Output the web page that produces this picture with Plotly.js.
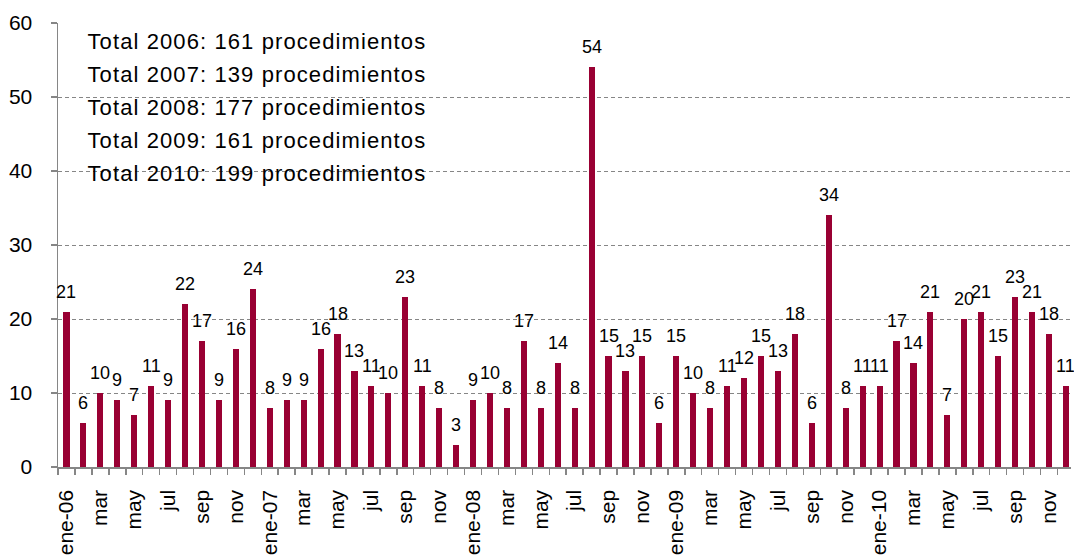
<!DOCTYPE html>
<html>
<head>
<meta charset="utf-8">
<script src="https://cdn.plot.ly/plotly-3.0.1.min.js"></script>
<style>
html, body { margin: 0; padding: 0; background: #fff; }
#chart { width: 1074px; height: 559px; }
</style>
</head>
<body>
<div id="chart"></div>
<script>
// Monthly values (procedimientos)
const v2006 = [21, 6, 10, 9, 7, 11, 9, 22, 17, 9, 16, 24];
const v2007 = [8, 9, 9, 16, 18, 13, 11, 10, 23, 11, 8, 3];
const v2008 = [9, 10, 8, 17, 8, 14, 8, 54, 15, 13, 15, 6];
const v2009 = [15, 10, 8, 11, 12, 15, 13, 18, 6, 34, 8, 11];
const v2010 = [11, 17, 14, 21, 7, 20, 21, 15, 23, 21, 18, 11];

const years = ['06', '07', '08', '09', '10'];
const monthLabels = ['ene', 'mar', 'may', 'jul', 'sep', 'nov'];

const totalsText = [
  'Total 2006: 161 procedimientos',
  'Total 2007: 139 procedimientos',
  'Total 2008: 177 procedimientos',
  'Total 2009: 161 procedimientos',
  'Total 2010: 199 procedimientos'
];

const values = [].concat(v2006, v2007, v2008, v2009, v2010);
const xIdx = values.map((_, i) => i);

// tick labels every two months
const tickVals = [];
const tickText = [];
years.forEach((yy, yi) => {
  monthLabels.forEach((m, mi) => {
    tickVals.push(yi * 12 + mi * 2);
    tickText.push(mi === 0 ? m + '-' + yy : m);
  });
});

const FONT = '"Liberation Sans", Arial, Helvetica, sans-serif';
const GRAY = '#868686';
const BAR = '#990033';

const trace = {
  type: 'bar',
  x: xIdx,
  y: values,
  width: 0.36,
  marker: { color: BAR, line: { width: 0 } },
  hoverinfo: 'x+y'
};

const annotations = [];
const totalY = [0.958, 0.884, 0.810, 0.736, 0.661];
totalsText.forEach((t, i) => {
  annotations.push({
    xref: 'paper', yref: 'paper',
    x: 0.043, y: totalY[i],
    xanchor: 'left', yanchor: 'middle',
    text: t, showarrow: false,
    font: { family: FONT, size: 22, color: '#000' }
  });
});
values.forEach((v, i) => {
  annotations.push({
    xref: 'x', yref: 'y',
    x: i, y: v,
    xanchor: 'center', yanchor: 'bottom',
    yshift: 8,
    text: String(v), showarrow: false,
    font: { family: FONT, size: 18, color: '#000' }
  });
});

const layout = {
  width: 1074, height: 559,
  margin: { l: 58, r: 3, t: 23, b: 92, pad: 0 },
  paper_bgcolor: '#fff', plot_bgcolor: '#fff',
  showlegend: false,
  font: { family: FONT, color: '#000' },
  bargap: 0,
  xaxis: {
    type: 'linear',
    range: [-0.5, 59.3],
    tickmode: 'array', tickvals: tickVals, ticktext: tickText,
    tickangle: -90,
    ticks: '',
    ticklabelstandoff: 13,
    tickfont: { family: FONT, size: 21, color: '#000' },
    showgrid: false, zeroline: false,
    showline: true, linecolor: GRAY, linewidth: 1.5,
    automargin: false,
    minor: { tickmode: 'linear', tick0: -0.5, dtick: 1, ticks: 'outside', ticklen: 6, tickcolor: GRAY, tickwidth: 1.5, showgrid: false }
  },
  yaxis: {
    range: [0, 60], dtick: 10, tick0: 0,
    ticks: 'outside', ticklen: 6, tickcolor: GRAY, tickwidth: 1.5,
    ticklabelstandoff: 14,
    tickfont: { family: FONT, size: 21, color: '#000' },
    showgrid: true, gridcolor: GRAY, gridwidth: 1, griddash: '4px,3px',
    zeroline: false,
    showline: true, linecolor: GRAY, linewidth: 1.5,
    automargin: false
  },
  annotations: annotations
};

Plotly.newPlot('chart', [trace], layout, { displayModeBar: false, staticPlot: true }).then(() => {
  document.querySelectorAll('.annotation').forEach(a => {
    const idx = +a.getAttribute('data-index');
    if (idx < totalsText.length) {
      a.querySelectorAll('text').forEach(t => { t.style.letterSpacing = '1.1px'; });
    }
  });
});
</script>
</body>
</html>
